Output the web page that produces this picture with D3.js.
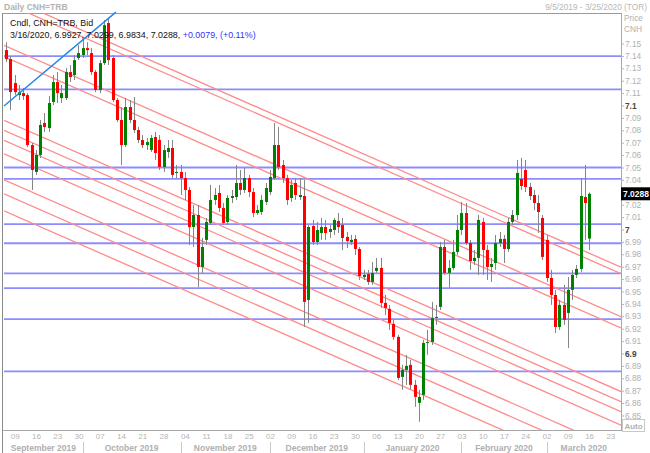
<!DOCTYPE html>
<html><head><meta charset="utf-8">
<script src="https://cdnjs.cloudflare.com/ajax/libs/d3/7.8.5/d3.min.js"></script>
<style>
body{margin:0;background:#fff}
svg{display:block}
text{font-family:"Liberation Sans",Arial,sans-serif}
</style></head>
<body><svg id="c" width="650" height="453"></svg>
<script>
// ---------- DATA ----------
const firstDay = new Date(2019, 8, 5), lastDay = new Date(2020, 2, 25);
const opens = [7.1447,7.1374,7.1181,7.1084,7.1100,7.1084,7.0681,7.0464,7.0601,7.0859,
7.0818,7.1028,7.1189,7.1060,7.1060,7.1270,7.1246,7.1383,7.1407,7.1463,
7.1423,7.1270,7.1125,7.1342,7.1665,7.1383,7.1044,7.0883,7.0681,7.0988,
7.0883,7.0802,7.0722,7.0681,7.0641,7.0746,7.0722,7.0504,7.0625,7.0657,
7.0456,7.0464,7.0415,7.0319,7.0020,7.0117,6.9698,6.9916,7.0053,7.0238,
7.0294,7.0174,7.0061,7.0254,7.0262,7.0375,7.0319,7.0415,7.0302,7.0133,
7.0141,7.0222,7.0302,7.0415,7.0681,7.0520,7.0415,7.0254,7.0375,7.0262,
7.0270,6.9432,7.0028,6.9899,6.9972,7.0020,6.9980,6.9996,7.0069,7.0037,
6.9940,6.9899,6.9924,6.9843,6.9617,6.9642,6.9577,6.9666,6.9690,6.9408,
6.9360,6.9239,6.9134,6.8811,6.8868,6.8908,6.8747,6.8602,6.8666,6.9085,
6.9093,6.9287,6.9376,6.9859,6.9650,6.9690,6.9819,6.9996,7.0133,6.9891,
6.9746,6.9771,7.0061,6.9835,6.9698,6.9730,6.9891,6.9924,6.9843,7.0061,
7.0117,7.0407,7.0480,7.0343,7.0278,7.0214,7.0093,6.9916,6.9609,6.9472,
6.9214,6.9392,6.9327,6.9513,6.9634,6.9682,7.0262,6.9927];
const highs = [7.1511,7.1399,7.1246,7.1165,7.1141,7.1100,7.0697,7.0641,7.0883,7.0939,
7.1076,7.1246,7.1270,7.1165,7.1302,7.1326,7.1407,7.1487,7.1528,7.1511,
7.1463,7.1286,7.1366,7.1689,7.1705,7.1407,7.1060,7.0988,7.1060,7.1044,
7.1068,7.0826,7.0762,7.0738,7.0762,7.0786,7.0762,7.0681,7.0722,7.0722,
7.0520,7.0520,7.0464,7.0343,7.0198,7.0198,6.9932,7.0093,7.0359,7.0335,
7.0359,7.0214,7.0278,7.0319,7.0520,7.0480,7.0496,7.0440,7.0335,7.0198,
7.0278,7.0375,7.0480,7.0859,7.0826,7.0561,7.0440,7.0399,7.0415,7.0415,
7.0399,7.0037,7.0077,7.0061,7.0093,7.0077,7.0037,7.0093,7.0133,7.0093,
6.9980,6.9956,6.9956,6.9859,6.9674,6.9674,6.9738,6.9771,6.9771,6.9472,
6.9392,6.9271,6.9150,6.8908,6.8989,6.8948,6.8787,6.8707,6.9110,6.9190,
6.9416,6.9392,6.9899,6.9916,6.9754,6.9916,7.0117,7.0222,7.0214,6.9916,
6.9835,7.0117,7.0093,6.9875,6.9771,6.9956,6.9980,6.9956,7.0093,7.0157,
7.0561,7.0577,7.0561,7.0375,7.0319,7.0278,7.0117,6.9956,6.9674,6.9513,
6.9432,6.9553,6.9617,6.9674,6.9714,7.0415,7.0520,7.0299];
const lows = [7.1350,7.0963,7.1084,7.1044,7.1044,7.0665,7.0319,7.0440,7.0577,7.0786,
7.0786,7.1004,7.1020,7.1020,7.1044,7.1189,7.1205,7.1366,7.1383,7.1407,
7.1246,7.1108,7.1100,7.1326,7.1326,7.1028,7.0867,7.0520,7.0665,7.0859,
7.0778,7.0697,7.0657,7.0641,7.0625,7.0561,7.0480,7.0464,7.0577,7.0415,
7.0415,7.0278,7.0238,6.9875,6.9859,6.9537,6.9650,6.9875,7.0037,7.0198,
7.0141,7.0037,7.0037,7.0214,7.0238,7.0278,7.0294,7.0262,7.0101,7.0117,
7.0117,7.0198,7.0278,7.0399,7.0480,7.0375,7.0198,7.0222,7.0238,7.0238,
6.9214,6.9247,6.9875,6.9875,6.9916,6.9916,6.9932,6.9956,6.9972,6.9835,
6.9851,6.9875,6.9795,6.9593,6.9593,6.9553,6.9553,6.9650,6.9368,6.9311,
6.9190,6.9110,6.8787,6.8707,6.8747,6.8707,6.8570,6.8449,6.8626,6.8989,
6.9069,6.9231,6.9351,6.9634,6.9529,6.9674,6.9795,6.9956,6.9875,6.9674,
6.9714,6.9634,6.9634,6.9593,6.9577,6.9674,6.9859,6.9730,6.9819,7.0037,
7.0077,7.0319,7.0302,7.0238,7.0157,6.9972,6.9754,6.9577,6.9392,6.9166,
6.9190,6.9231,6.9045,6.9432,6.9609,6.9658,6.9916,6.9834];
const closes = [7.1374,7.1108,7.1108,7.1108,7.1076,7.0681,7.0480,7.0601,7.0843,7.0826,
7.1020,7.1189,7.1100,7.1100,7.1270,7.1229,7.1366,7.1423,7.1463,7.1447,
7.1270,7.1125,7.1342,7.1648,7.1366,7.1044,7.0883,7.0681,7.0988,7.0883,
7.0802,7.0722,7.0681,7.0705,7.0738,7.0617,7.0504,7.0641,7.0657,7.0440,
7.0464,7.0415,7.0319,7.0020,7.0117,6.9698,6.9859,7.0061,7.0238,7.0278,
7.0174,7.0053,7.0254,7.0270,7.0375,7.0319,7.0415,7.0302,7.0133,7.0157,
7.0238,7.0335,7.0424,7.0681,7.0504,7.0415,7.0238,7.0359,7.0278,7.0278,
6.9416,7.0020,6.9899,6.9996,7.0020,6.9972,7.0004,7.0077,7.0020,6.9932,
6.9907,6.9916,6.9843,6.9625,6.9634,6.9577,6.9650,6.9690,6.9408,6.9368,
6.9247,6.9134,6.8803,6.8868,6.8900,6.8747,6.8650,6.8650,6.9085,6.9093,
6.9287,6.9295,6.9859,6.9650,6.9690,6.9819,6.9996,7.0133,6.9891,6.9746,
6.9771,7.0077,6.9835,6.9698,6.9722,6.9891,6.9924,6.9843,7.0061,7.0117,
7.0456,7.0351,7.0343,7.0270,7.0214,7.0141,6.9779,6.9609,6.9472,6.9214,
6.9392,6.9271,6.9513,6.9634,6.9682,7.0270,7.0214,7.0288];

const levelPrices = [7.1399,7.1130,7.0500,7.0409,7.0043,6.9889,6.9646,6.9527,6.9277,6.8856];
const redLineStarts = [7.1884,7.1832,7.1485,7.1394,7.0881,7.0800,7.0719,7.0610,7.0401,7.0288,7.0151];
const redLineSlope = -0.001509;           // price per trading day
const trendPoints = [[0, 7.0996], [26.3, 7.1753]];
const priceTicks = [7.15,7.14,7.13,7.12,7.11,7.1,7.09,7.08,7.07,7.06,7.05,7.04,7.03,7.02,7.01,7,
6.99,6.98,6.97,6.96,6.95,6.94,6.93,6.92,6.91,6.9,6.89,6.88,6.87,6.86,6.85];
const boldTicks = [7.1, 7, 6.9];
const monthNames = ["September 2019","October 2019","November 2019","December 2019","January 2020","February 2020","March 2020"];
const lastLabel = "7.0288";
const infoLine1 = "Cndl, CNH=TRB, Bid";
const infoLine2a = "3/16/2020, 6.9927, 7.0299, 6.9834, 7.0288, ";
const infoLine2b = "+0.0079, (+0.11%)";

// ---------- SETUP ----------
const days = d3.timeDay.range(firstDay, d3.timeDay.offset(lastDay, 1)).filter(d => d.getDay() % 6 !== 0);
const N = days.length;
const L = 4, R = 621, T = 13, B = 430;
const x = d3.scaleLinear().domain([0, N]).range([L, R]);
const y = d3.scaleLinear().domain([6.8383, 7.1746]).range([B, T]);
const svg = d3.select("#c");
const candles = opens.map((o, i) => ({i, o, h: highs[i], l: lows[i], c: closes[i]}));
const lp = closes[closes.length - 1];

svg.append("defs").append("clipPath").attr("id", "clip")
  .append("rect").attr("x", L).attr("y", T).attr("width", R - L).attr("height", B - T);

// header
svg.append("text").attr("x", 4).attr("y", 10).attr("font-size", 8.5).attr("font-weight", "bold")
  .attr("fill", "#b3b3b3").text("Daily CNH=TRB");
svg.append("text").attr("x", 647).attr("y", 10).attr("font-size", 8.3).attr("text-anchor", "end")
  .attr("fill", "#b8b8b8").text("9/5/2019 - 3/25/2020 (TOR)");

// frame
svg.append("line").attr("x1", 2.5).attr("x2", R).attr("y1", T + 0.5).attr("y2", T + 0.5).attr("stroke", "#9a9a9a");
svg.append("line").attr("x1", 2.5).attr("x2", 2.5).attr("y1", T).attr("y2", 453).attr("stroke", "#8a8a8a");
svg.append("line").attr("x1", 2.5).attr("x2", R).attr("y1", B + 0.5).attr("y2", B + 0.5).attr("stroke", "#a8a8a8");
svg.append("line").attr("x1", R + 0.5).attr("x2", R + 0.5).attr("y1", T).attr("y2", B + 1).attr("stroke", "#a8a8a8");

const plot = svg.append("g").attr("clip-path", "url(#clip)");

// horizontal levels
plot.selectAll(".lvl").data(levelPrices).join("line")
  .attr("x1", L).attr("x2", R).attr("y1", d => y(d)).attr("y2", d => y(d))
  .attr("stroke", "#8c8cff").attr("stroke-width", 1.8);

// red parallel lines
plot.selectAll(".rl").data(redLineStarts).join("line")
  .attr("x1", x(0)).attr("y1", d => y(d))
  .attr("x2", x(N)).attr("y2", d => y(d + redLineSlope * N))
  .attr("stroke", "#ff8a8a").attr("stroke-width", 1.3);

// candles
const cg = plot.selectAll(".cd").data(candles).join("g");
cg.append("line")
  .attr("x1", d => Math.round(x(d.i + 0.5)) + 0.5).attr("x2", d => Math.round(x(d.i + 0.5)) + 0.5)
  .attr("y1", d => y(d.h)).attr("y2", d => y(d.l)).attr("stroke", "#858585");
cg.append("rect")
  .attr("x", d => Math.round(x(d.i + 0.5)) - 1).attr("width", 3)
  .attr("y", d => y(Math.max(d.o, d.c)))
  .attr("height", d => Math.max(1, Math.abs(y(d.o) - y(d.c))))
  .attr("fill", d => d.c >= d.o ? "#008000" : "#ff0000");

// blue trendline (drawn unclipped)
svg.append("line")
  .attr("x1", x(trendPoints[0][0])).attr("y1", y(trendPoints[0][1]))
  .attr("x2", x(trendPoints[1][0])).attr("y2", y(trendPoints[1][1]))
  .attr("stroke", "#1e88f0").attr("stroke-width", 1.5);

// info text
svg.append("text").attr("x", 10).attr("y", 26).attr("font-size", 8.9).attr("fill", "#111").text(infoLine1);
const t2 = svg.append("text").attr("x", 10).attr("y", 38).attr("font-size", 8.9).attr("fill", "#111");
t2.append("tspan").text(infoLine2a);
t2.append("tspan").attr("fill", "#3333ff").text(infoLine2b);

// right price axis (labels hidden behind the last-price box are skipped)
const shownTicks = priceTicks.filter(t => Math.abs(y(t) - y(lp)) > 8);
const ya = svg.append("g").attr("transform", `translate(${R},0)`)
  .call(d3.axisRight(y).tickValues(shownTicks).tickSize(3).tickPadding(1).tickFormat(d3.format(".2~f")));
ya.select(".domain").remove();
ya.selectAll(".tick line").attr("stroke", "#b5b5b5");
ya.selectAll(".tick text").attr("font-size", 8.3).attr("font-family", "Liberation Sans, Arial, sans-serif")
  .attr("fill", d => boldTicks.includes(d) ? "#444" : "#b0b0b0")
  .attr("font-weight", d => boldTicks.includes(d) ? "bold" : "normal");
svg.append("text").attr("x", 624).attr("y", 21).attr("font-size", 8.3).attr("fill", "#b0b0b0").text("Price");
svg.append("text").attr("x", 624).attr("y", 32).attr("font-size", 8.3).attr("fill", "#b0b0b0").text("CNH");

// last price label
svg.append("rect").attr("x", R).attr("y", y(lp) - 6.5).attr("width", 29).attr("height", 13).attr("fill", "#000");
svg.append("text").attr("x", R + 2).attr("y", y(lp) + 3.5).attr("font-size", 8.5).attr("font-weight", "bold")
  .attr("fill", "#fff").text(lastLabel);

// Auto box
svg.append("rect").attr("x", 622.5).attr("y", 419.5).attr("width", 22).attr("height", 12)
  .attr("fill", "#fff").attr("stroke", "#c8c8c8");
svg.append("text").attr("x", 633.5).attr("y", 429).attr("font-size", 8).attr("font-weight", "bold")
  .attr("text-anchor", "middle").attr("fill", "#b0b0b0").text("Auto");

// bottom axis: weekly day labels (Mondays)
const mondays = days.map((d, i) => ({d, i})).filter(o => o.d.getDay() === 1);
const xa = svg.append("g").attr("transform", `translate(0,${B})`)
  .call(d3.axisBottom(x).tickValues(mondays.map(o => o.i + 0.5)).tickSize(0).tickPadding(3)
    .tickFormat(v => d3.timeFormat("%d")(days[Math.floor(v)])));
xa.select(".domain").remove();
xa.selectAll(".tick text").attr("font-size", 8).attr("fill", "#b5b5b5")
  .attr("font-family", "Liberation Sans, Arial, sans-serif");

// months
const monthStarts = [];
days.forEach((d, i) => { if (i === 0 || d.getMonth() !== days[i - 1].getMonth()) monthStarts.push(i); });
const bounds = monthStarts.map((s, k) => k === 0 ? L : x(s + 0.5));
bounds.push(R);
monthNames.forEach((m, k) => {
  svg.append("text").attr("x", (bounds[k] + bounds[k + 1]) / 2).attr("y", 451)
    .attr("font-size", 8.5).attr("font-weight", "bold").attr("text-anchor", "middle")
    .attr("fill", "#b0b0b0").text(m);
  if (k > 0) svg.append("line").attr("x1", Math.round(bounds[k]) + 0.5).attr("x2", Math.round(bounds[k]) + 0.5)
    .attr("y1", 442).attr("y2", 453).attr("stroke", "#c8c8c8");
});
</script></body></html>
